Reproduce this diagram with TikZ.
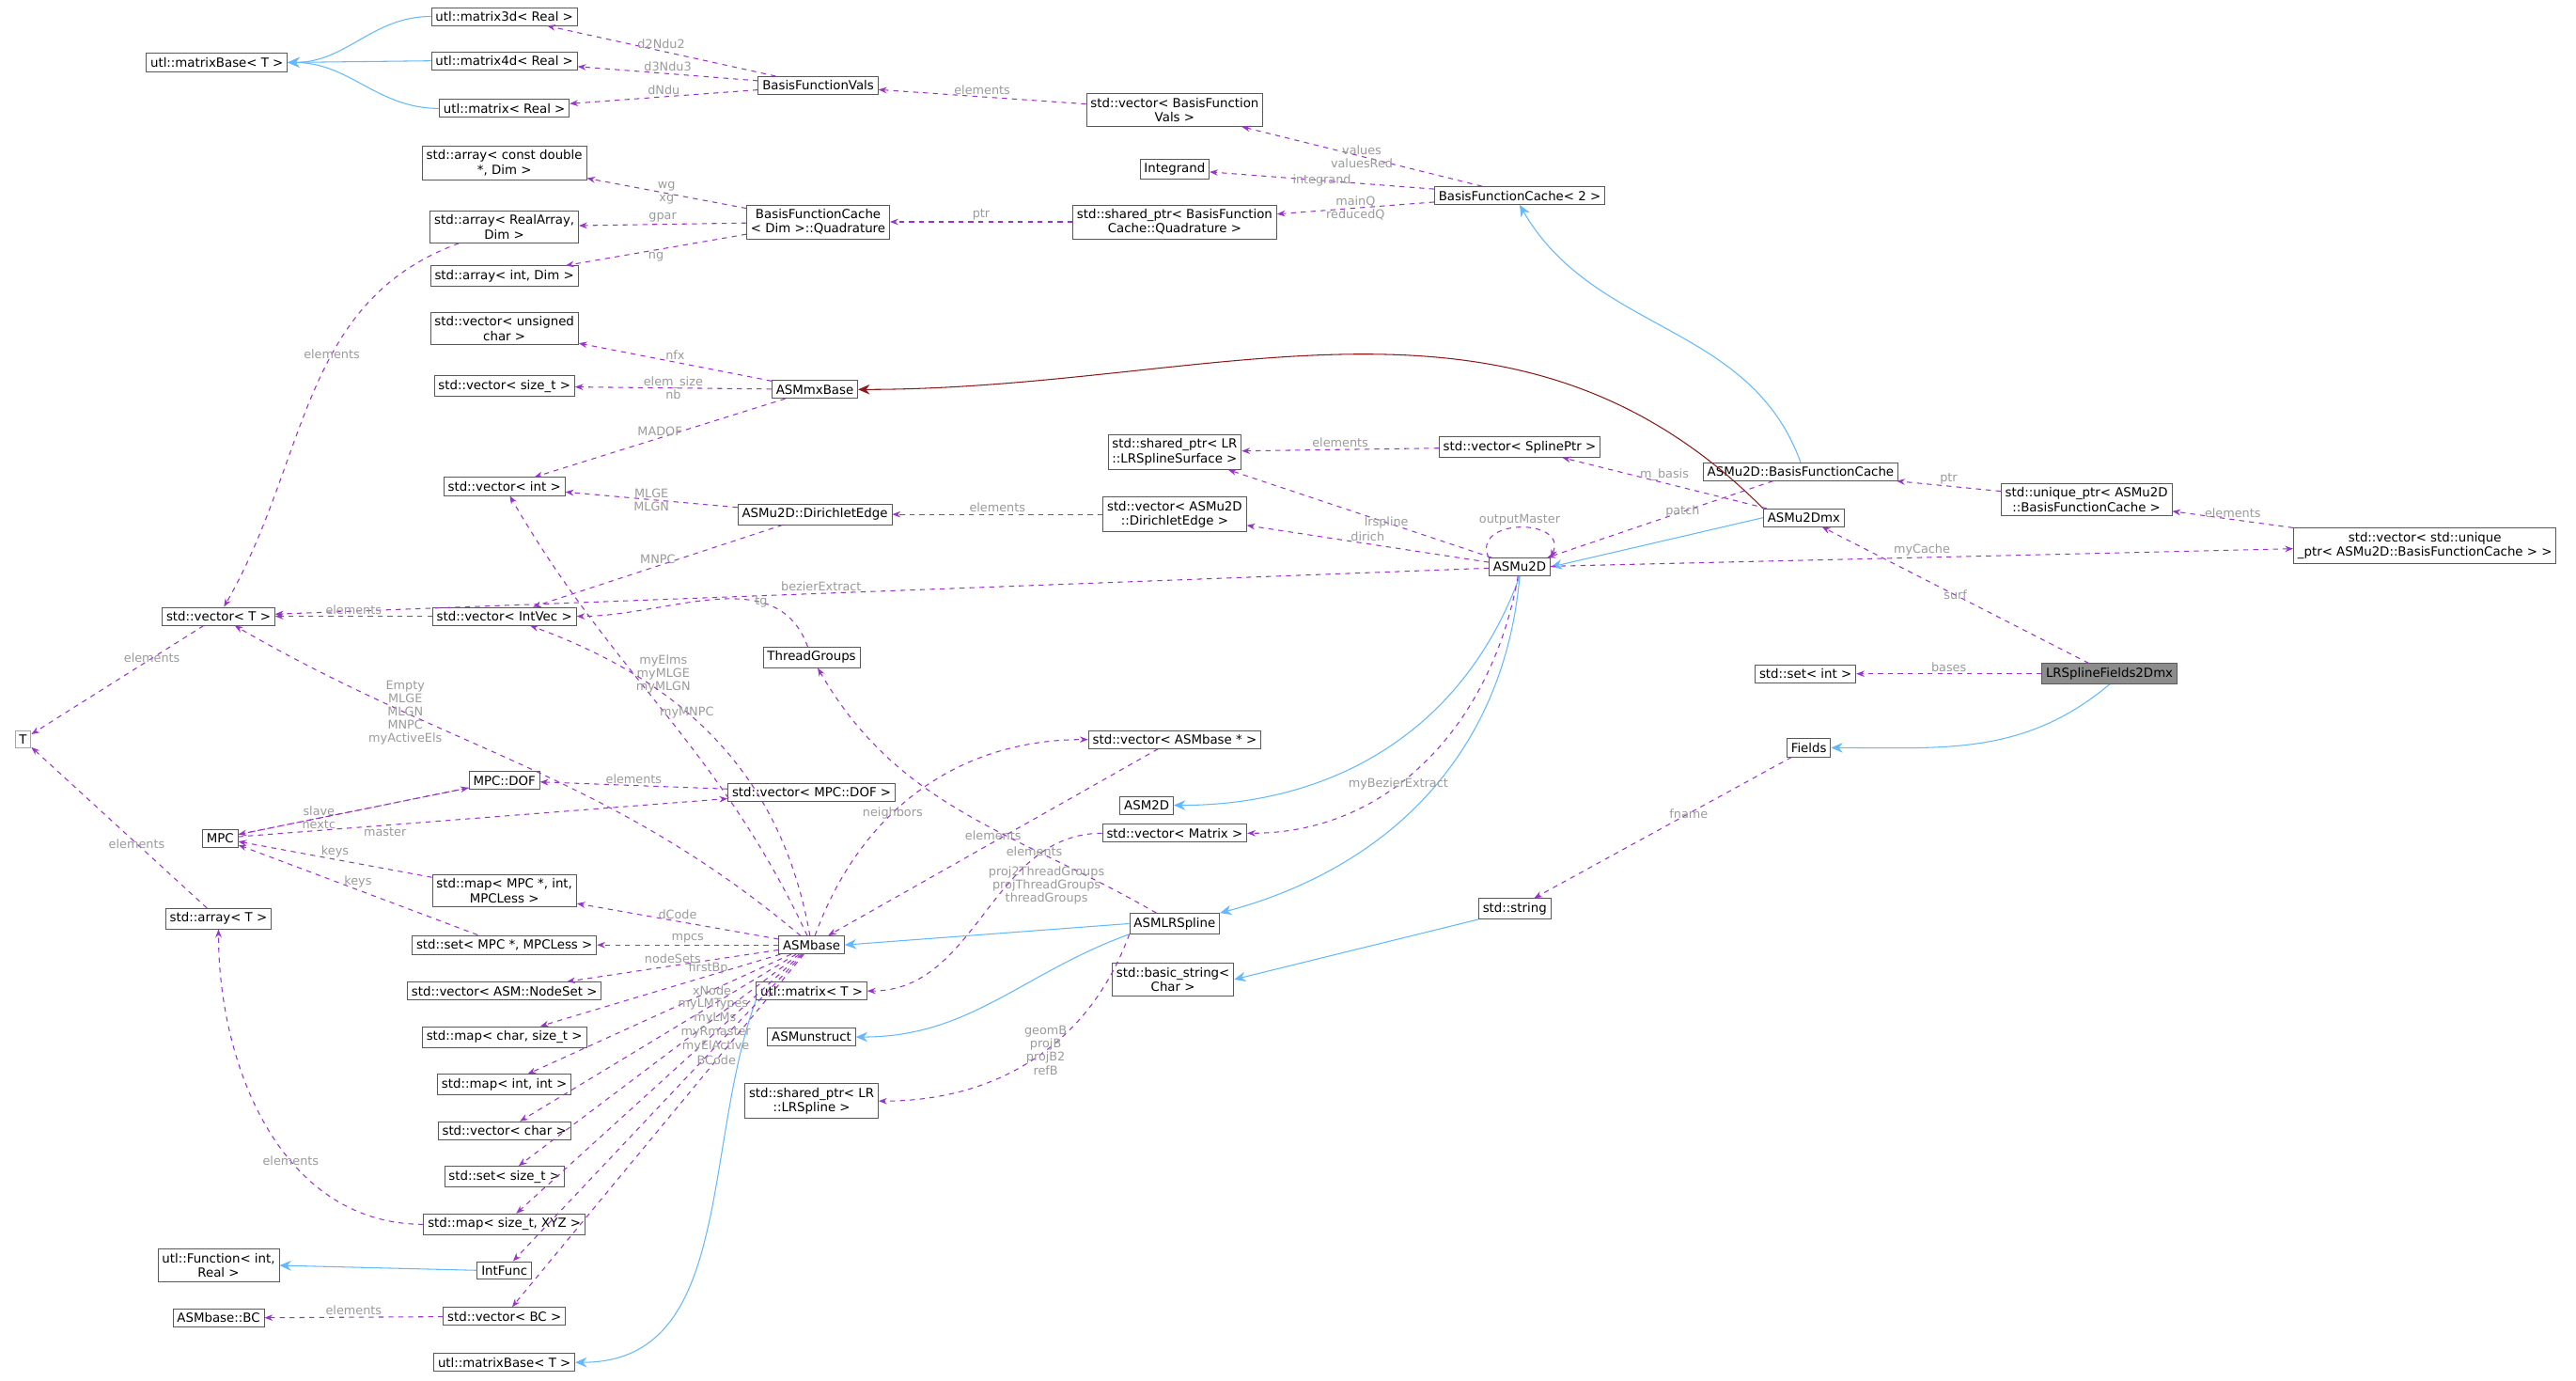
\documentclass[tikz,border=0pt]{standalone}
\usepackage{fontspec}
\setmainfont{DejaVu Sans}
\usetikzlibrary{arrows.meta}
\definecolor{usecol}{HTML}{9A32CD}
\definecolor{inhcol}{HTML}{63B8FF}
\definecolor{redcol}{HTML}{8B1A1A}
\definecolor{lblcol}{HTML}{9A9A9A}
\tikzset{
  box/.style={draw=black!65,fill=white,font=\fontsize{7.6}{8.8}\selectfont,inner sep=2.5pt,align=center,line width=0.5pt},
  use/.style={usecol,dashed,line width=0.6pt,-{Stealth[length=5pt]}},
  inh/.style={inhcol,line width=0.6pt,-{Stealth[length=7pt,width=6pt]}},
  inhr/.style={redcol,line width=0.6pt,-{Stealth[length=7pt,width=6pt]}},
  lbl/.style={text=lblcol,font=\fontsize{7.3}{8}\selectfont,align=center,inner sep=1pt}
}
\begin{document}
\begin{tikzpicture}[x=0.035cm,y=-0.035cm]
\useasboundingbox (0,0) rectangle (1568,840);
% nodes, left to right
\node[box] (matBase) at (132,38) {utl::matrixBase< T >};
\node[box] (vecT) at (133,375) {std::vector< T >};
\node[box,draw=black!35] (T) at (14,450) {T};
\node[box] (mpc) at (134,510) {MPC};
\node[box] (arrT) at (133,559) {std::array< T >};
\node[box] (func) at (133,770) {utl::Function< int,\\Real >};
\node[box] (bc) at (133,802) {ASMbase::BC};
\node[box] (matIIId) at (307,10) {utl::matrix3d< Real >};
\node[box] (matIVd) at (307,37) {utl::matrix4d< Real >};
\node[box] (matReal) at (307,66) {utl::matrix< Real >};
\node[box] (arrCd) at (307,99) {std::array< const double\\*, Dim >};
\node[box] (arrRa) at (307,138) {std::array< RealArray,\\Dim >};
\node[box] (arrInt) at (307,168) {std::array< int, Dim >};
\node[box] (vecUchar) at (307,200) {std::vector< unsigned\\char >};
\node[box] (vecSize) at (307,235) {std::vector< size\_t >};
\node[box] (vecInt) at (307,296) {std::vector< int >};
\node[box] (vecIv) at (307,375) {std::vector< IntVec >};
\node[box] (dof) at (307,475) {MPC::DOF};
\node[box] (mapMpc) at (307,542) {std::map< MPC *, int,\\MPCLess >};
\node[box] (setMpc) at (307,575) {std::set< MPC *, MPCLess >};
\node[box] (vecNs) at (307,603) {std::vector< ASM::NodeSet >};
\node[box] (mapChar) at (307,631) {std::map< char, size\_t >};
\node[box] (mapInt) at (307,660) {std::map< int, int >};
\node[box] (vecChar) at (307,688) {std::vector< char >};
\node[box] (setSize) at (307,716) {std::set< size\_t >};
\node[box] (mapXyz) at (307,745) {std::map< size\_t, XYZ >};
\node[box] (intfunc) at (307,773) {IntFunc};
\node[box] (vecBc) at (307,801) {std::vector< BC >};
\node[box] (matBaseT) at (307,829) {utl::matrixBase< T >};
\node[box] (bfVals) at (498,52) {BasisFunctionVals};
\node[box] (quad) at (498,135) {BasisFunctionCache\\< Dim >::Quadrature};
\node[box] (mxBase) at (496,237) {ASMmxBase};
\node[box] (dirEdge) at (496,313) {ASMu2D::DirichletEdge};
\node[box] (thrG) at (494,400) {ThreadGroups};
\node[box] (vecDof) at (494,482) {std::vector< MPC::DOF >};
\node[box] (asmbase) at (494,575) {ASMbase};
\node[box] (matT) at (494,603) {utl::matrix< T >};
\node[box] (unstr) at (494,631) {ASMunstruct};
\node[box] (shLr) at (494,670) {std::shared\_ptr< LR\\::LRSpline >};
\node[box] (vecBfVals) at (715,67) {std::vector< BasisFunction\\Vals >};
\node[box] (integrand) at (715,103) {Integrand};
\node[box] (shQuad) at (715,135) {std::shared\_ptr< BasisFunction\\Cache::Quadrature >};
\node[box] (shSurf) at (715,275) {std::shared\_ptr< LR\\::LRSplineSurface >};
\node[box] (vecDir) at (715,313) {std::vector< ASMu2D\\::DirichletEdge >};
\node[box] (vecAsm) at (715,450) {std::vector< ASMbase * >};
\node[box] (asm2d) at (698,490) {ASM2D};
\node[box] (vecMat) at (715,507) {std::vector< Matrix >};
\node[box] (lrspl) at (715,562) {ASMLRSpline};
\node[box] (bstr) at (714,596) {std::basic\_string<\\Char >};
\node[box] (bfCache) at (925,119) {BasisFunctionCache< 2 >};
\node[box] (vecSpl) at (925,272) {std::vector< SplinePtr >};
\node[box] (u2d) at (925,345) {ASMu2D};
\node[box] (str) at (922,553) {std::string};
\node[box] (u2dBfc) at (1096,287) {ASMu2D::BasisFunctionCache};
\node[box] (u2dmx) at (1098,315) {ASMu2Dmx};
\node[box] (setInt) at (1099,410) {std::set< int >};
\node[box] (fields) at (1101,455) {Fields};
\node[box] (uqBfc) at (1270,304) {std::unique\_ptr< ASMu2D\\::BasisFunctionCache >};
\node[box,fill=black!45] (lrf) at (1284,410) {LRSplineFields2Dmx};
\node[box] (vecUq) at (1476,332) {std::vector< std::unique\\\_ptr< ASMu2D::BasisFunctionCache > >};
% inheritance
\draw[inh] (matIIId.west) to[out=180,in=0] (matBase.east);
\draw[inh] (matIVd.west) -- (matBase.east);
\draw[inh] (matReal.west) to[out=180,in=0] (matBase.east);
\draw[inh] (u2dBfc.north) to[out=110,in=-60] (bfCache.south);
\draw[inh] (u2dmx.west) -- (u2d.east);
\draw[inh] (u2d.south) to[out=-110,in=0] (asm2d.east);
\draw[inh] (u2d.south) to[out=-95,in=15] (lrspl.north east);
\draw[inh] (lrf.south) to[out=-140,in=0] (fields.east);
\draw[inh] (lrspl.west) -- (asmbase.east);
\draw[inh] (lrspl.south west) to[out=-160,in=0] (unstr.east);
\draw[inh] (str.south west) -- (bstr.east);
\draw[inh] (intfunc.west) -- (func.east);
\draw[inh] (matT.south west) to[out=-110,in=0] (matBaseT.east);
\draw[inhr] (u2dmx.north west) to[out=135,in=0] (mxBase.east);
% usage
\draw[use] (bfVals) -- node[lbl,above]{d2Ndu2} (matIIId);
\draw[use] (bfVals) -- node[lbl,above]{d3Ndu3} (matIVd);
\draw[use] (bfVals) -- node[lbl,above]{dNdu} (matReal);
\draw[use] (vecBfVals) -- node[lbl,above]{elements} (bfVals);
\draw[use] (bfCache) -- node[lbl]{values\\valuesRed} (vecBfVals);
\draw[use] (bfCache) -- node[lbl]{integrand} (integrand);
\draw[use] (bfCache) -- node[lbl]{mainQ\\reducedQ} (shQuad);
\draw[use] (shQuad) -- node[lbl,above]{ptr} (quad);
\draw[use] (quad) -- node[lbl]{wg\\xg} (arrCd);
\draw[use] (quad) -- node[lbl,above]{gpar} (arrRa);
\draw[use] (quad) -- node[lbl,below]{ng} (arrInt);
\draw[use] (arrRa) to[out=200,in=60] node[lbl,pos=0.4]{elements} (vecT);
\draw[use] (mxBase) -- node[lbl,above]{nfx} (vecUchar);
\draw[use] (mxBase) -- node[lbl]{elem\_size\\nb} (vecSize);
\draw[use] (mxBase) -- node[lbl,above]{MADOF} (vecInt);
\draw[use] (dirEdge) -- node[lbl]{MLGE\\MLGN} (vecInt);
\draw[use] (dirEdge) -- node[lbl,above]{MNPC} (vecIv);
\draw[use] (vecDir) -- node[lbl,above]{elements} (dirEdge);
\draw[use] (vecSpl) -- node[lbl,above]{elements} (shSurf);
\draw[use] (u2dmx) -- node[lbl,above]{m\_basis} (vecSpl);
\draw[use] (u2d) -- node[lbl,pos=0.4]{lrspline} (shSurf);
\draw[use] (u2d) -- node[lbl,above]{dirich} (vecDir);
\draw[use] (u2d.north west) .. controls (895,315) and (955,315) .. node[lbl,above]{outputMaster} (u2d.north east);
\draw[use] (u2dBfc) -- node[lbl,pos=0.4]{patch} (u2d);
\draw[use] (uqBfc) -- node[lbl,above]{ptr} (u2dBfc);
\draw[use] (vecUq) -- node[lbl,above]{elements} (uqBfc);
\draw[use] (u2d) -- node[lbl,above]{myCache} (vecUq);
\draw[use] (u2d) -- node[lbl,above,pos=0.55]{bezierExtract} (vecT);
\draw[use] (u2d) to[out=-100,in=0] node[lbl,pos=0.6]{myBezierExtract} (vecMat);
\draw[use] (lrf) -- node[lbl]{surf} (u2dmx);
\draw[use] (lrf) -- node[lbl,above]{bases} (setInt);
\draw[use] (fields) -- node[lbl,pos=0.4]{fname} (str);
\draw[use] (vecIv) -- node[lbl,above]{elements} (vecT);
\draw[use] (vecT) -- node[lbl,pos=0.3]{elements} (T);
\draw[use] (arrT) -- node[lbl,pos=0.4]{elements} (T);
\draw[use] (thrG) to[out=110,in=0] node[lbl,pos=0.3]{tg} (vecIv.east);
\draw[use] (asmbase) to[out=140,in=-30] node[lbl,pos=0.72]{Empty\\MLGE\\MLGN\\MNPC\\myActiveEls} (vecT);
\draw[use] (asmbase) to[out=115,in=-60] node[lbl,pos=0.6,right]{myElms\\myMLGE\\myMLGN} (vecInt);
\draw[use] (asmbase) to[out=100,in=-20] node[lbl,pos=0.6]{myMNPC} (vecIv);
\draw[use] (asmbase) to[out=70,in=180] node[lbl,pos=0.4]{neighbors} (vecAsm);
\draw[use] (vecAsm) -- node[lbl,above]{elements} (asmbase);
\draw[use] (lrspl) to[out=150,in=-60] node[lbl,pos=0.12,left]{proj2ThreadGroups\\projThreadGroups\\threadGroups} (thrG);
\draw[use] (lrspl.south west) to[out=-110,in=0] node[lbl,pos=0.45]{geomB\\projB\\projB2\\refB} (shLr);
\draw[use] (vecMat) to[out=180,in=0] node[lbl,above,pos=0.25]{elements} (matT.east);
\draw[use] (vecDof) -- node[lbl,above]{elements} (dof);
\draw[use] (mpc) -- node[lbl,above,pos=0.35]{slave} (dof);
\draw[use] (dof) -- node[lbl,below,pos=0.65]{nextc} (mpc);
\draw[use] (mpc) -- node[lbl,below,pos=0.3]{master} (vecDof);
\draw[use] (mapMpc) -- node[lbl,above]{keys} (mpc);
\draw[use] (setMpc) -- node[lbl,above]{keys} (mpc);
\draw[use] (asmbase) -- node[lbl,above]{dCode} (mapMpc);
\draw[use] (asmbase) -- node[lbl,above]{mpcs} (setMpc);
\draw[use] (asmbase) -- node[lbl,above]{nodeSets} (vecNs);
\draw[use] (asmbase) -- node[lbl,above,pos=0.3]{firstBp} (mapChar);
\draw[use] (asmbase) -- node[lbl,pos=0.3]{xNode} (mapInt);
\draw[use] (asmbase) -- node[lbl,pos=0.3]{myLMTypes} (vecChar);
\draw[use] (asmbase) -- node[lbl,pos=0.3]{myLMs} (setSize);
\draw[use] (asmbase) -- node[lbl,pos=0.3]{myRmaster} (mapXyz);
\draw[use] (asmbase) -- node[lbl,pos=0.3]{myElActive} (intfunc);
\draw[use] (asmbase) -- node[lbl,pos=0.3]{BCode} (vecBc);
\draw[use] (vecBc) -- node[lbl,above]{elements} (bc);
\draw[use] (mapXyz) to[out=180,in=-90] node[lbl,pos=0.4]{elements} (arrT);
\end{tikzpicture}
\end{document}
